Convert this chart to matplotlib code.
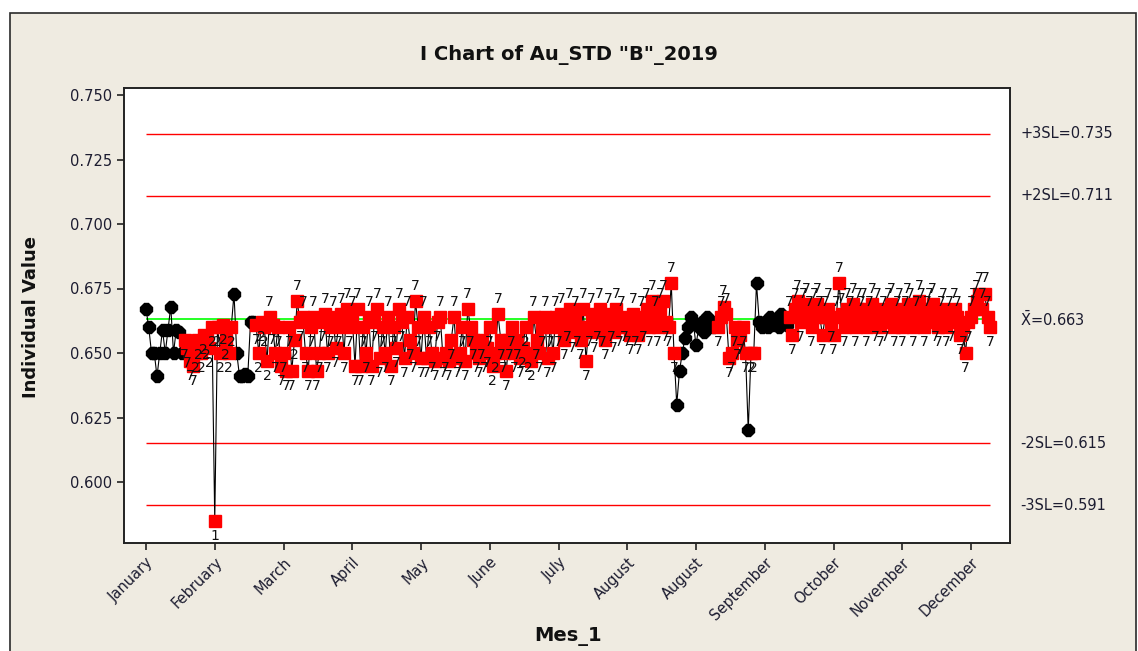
import numpy as np
import matplotlib
matplotlib.use("Agg")
import matplotlib.pyplot as plt
from matplotlib.patches import Rectangle
from matplotlib.transforms import blended_transform_factory

# ---------------- data ----------------
title = 'I Chart of Au_STD "B"_2019'
x_label = "Mes_1"
y_label = "Individual Value"

month_labels = ["January", "February", "March", "April", "May", "June", "July",
                "August", "August", "September", "October", "November", "December"]
tick_obs = [1, 26, 51, 76, 101, 126, 151, 176, 201, 226, 251, 276, 301]

seg_january = [0.667, 0.660, 0.650, 0.650, 0.641, 0.650, 0.659, 0.650, 0.659, 0.668, 0.650, 0.659, 0.658,
               0.650, 0.655, 0.652, 0.647, 0.645, 0.650, 0.655, 0.650, 0.657, 0.655, 0.652, 0.660]
seg_february = [0.585, 0.660, 0.650, 0.661, 0.655, 0.650, 0.660, 0.673, 0.650, 0.641, 0.641, 0.642, 0.641,
                0.662, 0.662, 0.661, 0.650, 0.662, 0.660, 0.647, 0.664, 0.661, 0.650, 0.660, 0.645]
seg_march = [0.650, 0.643, 0.660, 0.643, 0.655, 0.670, 0.662, 0.664, 0.650, 0.643, 0.660, 0.664, 0.643,
             0.650, 0.662, 0.665, 0.650, 0.660, 0.664, 0.652, 0.660, 0.665, 0.650, 0.667, 0.660]
seg_april = [0.664, 0.645, 0.667, 0.645, 0.660, 0.650, 0.664, 0.645, 0.662, 0.667, 0.648, 0.660, 0.650,
             0.664, 0.645, 0.660, 0.652, 0.667, 0.662, 0.648, 0.664, 0.655, 0.650, 0.670, 0.660]
seg_may = [0.648, 0.664, 0.648, 0.660, 0.650, 0.647, 0.662, 0.664, 0.648, 0.650, 0.647, 0.655, 0.664,
           0.648, 0.650, 0.660, 0.647, 0.667, 0.660, 0.655, 0.650, 0.648, 0.655, 0.650, 0.652]
seg_june = [0.660, 0.645, 0.650, 0.665, 0.655, 0.650, 0.643, 0.655, 0.660, 0.650, 0.655, 0.648, 0.652,
            0.660, 0.650, 0.647, 0.664, 0.655, 0.650, 0.660, 0.664, 0.648, 0.660, 0.650, 0.664]
seg_july = [0.660, 0.665, 0.655, 0.662, 0.667, 0.658, 0.664, 0.660, 0.655, 0.667, 0.647, 0.660, 0.665,
            0.658, 0.662, 0.667, 0.660, 0.655, 0.665, 0.662, 0.658, 0.667, 0.660, 0.664, 0.662]
seg_august_a = [0.660, 0.657, 0.665, 0.660, 0.657, 0.664, 0.662, 0.667, 0.660, 0.670, 0.664, 0.660, 0.667,
                0.670, 0.662, 0.660, 0.677, 0.650, 0.630, 0.643, 0.650, 0.656, 0.660, 0.664, 0.662]
seg_august_b = [0.653, 0.660, 0.662, 0.658, 0.664, 0.662, 0.660, 0.662, 0.660, 0.664, 0.668, 0.665, 0.648,
                0.650, 0.660, 0.655, 0.657, 0.660, 0.650, 0.620, 0.650, 0.650, 0.677, 0.662, 0.660]
seg_september = [0.662, 0.660, 0.664, 0.661, 0.662, 0.660, 0.665, 0.662, 0.661, 0.664, 0.657, 0.667, 0.670,
                 0.662, 0.667, 0.669, 0.664, 0.660, 0.667, 0.669, 0.664, 0.657, 0.664, 0.667, 0.662]
seg_october = [0.657, 0.664, 0.677, 0.665, 0.660, 0.667, 0.664, 0.669, 0.660, 0.667, 0.664, 0.667, 0.660,
               0.664, 0.669, 0.662, 0.667, 0.660, 0.664, 0.662, 0.667, 0.669, 0.660, 0.664, 0.667]
seg_november = [0.660, 0.664, 0.669, 0.667, 0.660, 0.664, 0.670, 0.667, 0.660, 0.664, 0.667, 0.669, 0.662,
                0.660, 0.664, 0.667, 0.660, 0.664, 0.662, 0.667, 0.664, 0.657, 0.660, 0.650, 0.662]
seg_december = [0.664, 0.667, 0.670, 0.673, 0.667, 0.673, 0.664, 0.660]

center_line = 0.663
center_label = r"$\bar{\mathrm{X}}$=0.663"
limit_labels = ["+3SL=0.735", "+2SL=0.711", "-2SL=0.615", "-3SL=0.591"]
limit_values = [0.735, 0.711, 0.615, 0.591]

y_ticks = [0.600, 0.625, 0.650, 0.675, 0.700, 0.725, 0.750]

# ---------------- build series ----------------
values = np.array(seg_january + seg_february + seg_march + seg_april + seg_may + seg_june +
                  seg_july + seg_august_a + seg_august_b + seg_september + seg_october +
                  seg_november + seg_december)
n = len(values)
obs = np.arange(1, n + 1)

# Minitab-style tests: 1 (beyond 3 sigma), 2 (9 in a row same side), 7 (15 in a row within 1 sigma)
sigma = (limit_values[0] - center_line) / 3.0
flags = []
run_side, run_len, in1 = 0, 0, 0
for v in values:
    tests = []
    if abs(v - center_line) > 3 * sigma + 1e-12:
        tests.append(1)
    side = 1 if v > center_line + 1e-12 else (-1 if v < center_line - 1e-12 else 0)
    if side != 0 and side == run_side:
        run_len += 1
    else:
        run_side = side
        run_len = 1 if side != 0 else 0
    if run_len >= 9:
        tests.append(2)
    if abs(v - center_line) < sigma:
        in1 += 1
    else:
        in1 = 0
    if in1 >= 15:
        tests.append(7)
    flags.append(min(tests) if tests else None)
flagged = np.array([f is not None for f in flags])

# ---------------- figure ----------------
W, H = 1138, 651
fig = plt.figure(figsize=(W / 100, H / 100), dpi=100)
fig.patch.set_facecolor("white")
beige = "#EFEBE1"
fig.add_artist(Rectangle((10 / W, -0.05), 1126 / W, 1 - 13 / H + 0.05, transform=fig.transFigure,
                         facecolor=beige, edgecolor="#2a2a2a", lw=1.2, zorder=-10))

ax = fig.add_axes([124 / W, 1 - 543 / H, (1010 - 124) / W, (543 - 88) / H])
ax.set_facecolor("white")

# control lines
ax.hlines(limit_values, 1, n, colors="#FF0000", lw=1.0, zorder=2)
ax.hlines(center_line, 1, n, colors="#00FF00", lw=1.2, zorder=2)

# data
ax.plot(obs, values, color="black", lw=0.8, zorder=3)
ax.plot(obs[~flagged], values[~flagged], linestyle="none", marker="8", ms=9,
        color="black", zorder=4)
ax.plot(obs[flagged], values[flagged], linestyle="none", marker="s", ms=9,
        color="#FF0000", zorder=5)
for xi, v, f in zip(obs, values, flags):
    if f is None:
        continue
    dy = 11 if v >= center_line else -11
    ax.annotate(str(f), (xi, v), xytext=(0, dy), textcoords="offset points",
                ha="center", va="center", fontsize=10, color="#111111", zorder=6)

# axes
px_per_obs = 68.75 / 25
ax.set_xlim(1 - (146 - 124) / px_per_obs, 1 + (1010 - 146) / px_per_obs)
ax.set_ylim(0.750 - (543 - 95) / 2580, 0.750 + 7 / 2580)
ax.set_yticks(y_ticks)
ax.set_yticklabels([f"{t:.3f}" for t in y_ticks], fontsize=10.5, color="#1c1c30")
ax.set_xticks(tick_obs)
ax.set_xticklabels(month_labels, rotation=45, ha="right", rotation_mode="anchor",
                   fontsize=10.5, color="#1c1c30")
ax.tick_params(direction="out", length=5, width=1.2, color="#222222")
for sp in ax.spines.values():
    sp.set_color("#222222")
    sp.set_linewidth(1.4)

# right-side limit labels
trans = blended_transform_factory(ax.transAxes, ax.transData)
xr = (1020 - 124) / (1010 - 124)
for lab, val in zip(limit_labels, limit_values):
    ax.text(xr, val, lab, transform=trans, ha="left", va="center", fontsize=10.5,
            color="#1c1c30", clip_on=False)
ax.text(xr, center_line, center_label, transform=trans, ha="left", va="center", fontsize=10.5,
        color="#1c1c30", clip_on=False)

# titles
fig.text(569 / W, 1 - 55 / H, title, ha="center", va="center", fontsize=14, fontweight="bold",
         color="#111111")
fig.text(31 / W, 1 - 317 / H, y_label, ha="center", va="center", rotation=90, fontsize=13,
         fontweight="bold", color="#111111")
fig.text(568 / W, 1 - 636 / H, x_label, ha="center", va="center", fontsize=14, fontweight="bold",
         color="#111111")

fig.savefig("out.png", dpi=100, facecolor=fig.get_facecolor())
